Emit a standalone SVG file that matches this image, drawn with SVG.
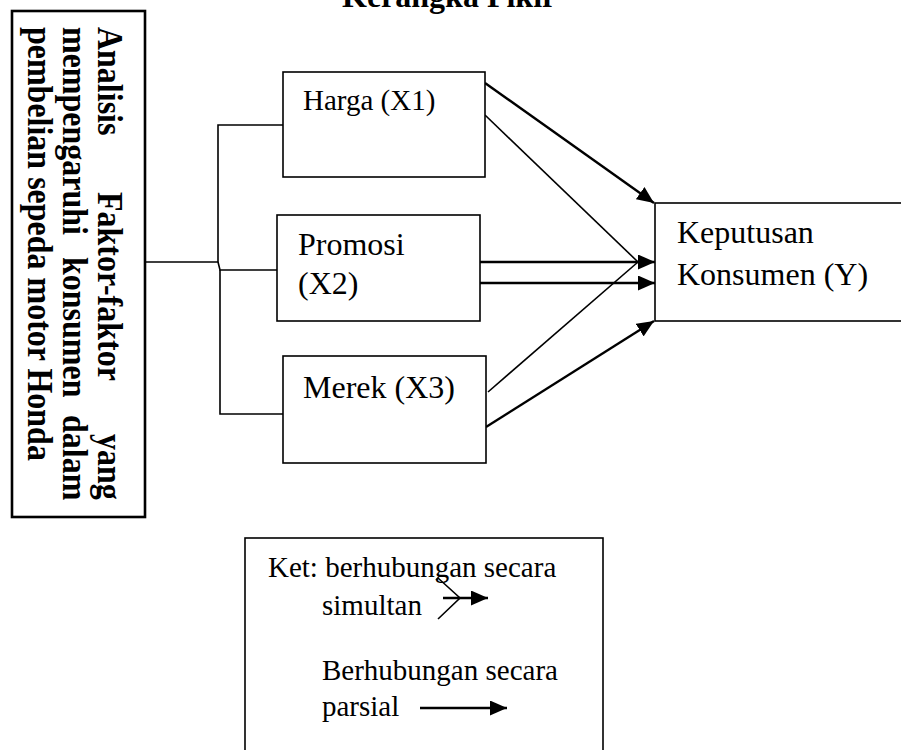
<svg xmlns="http://www.w3.org/2000/svg" width="901" height="750" viewBox="0 0 901 750">
<style>
.box{fill:#fff;stroke:#000;stroke-width:1.6}
.lbl{font-family:"Liberation Serif","Times New Roman",serif;font-size:32px;fill:#000}
.sm{font-size:29px}
.bold{font-weight:bold}
.ln{fill:none;stroke:#000;stroke-width:1.6}
.thick{fill:none;stroke:#000;stroke-width:2.4}
</style>
<defs>
<marker id="ah" markerUnits="userSpaceOnUse" markerWidth="17" markerHeight="15" refX="17" refY="7.5" orient="auto">
<path d="M0,0 L17,7.5 L0,15 z" fill="#000"/>
</marker>
</defs>
<rect width="901" height="750" fill="#fff"/>
<text class="lbl bold" x="342" y="7">Kerangka Pikir</text>

<g id="connectors">
<polyline class="ln" points="145,262 218,262 218,125 283,125"/>
<polyline class="ln" points="218,262 220,270 277,270"/>
<polyline class="ln" points="220,270 220,414 283,414"/>
<line class="thick" x1="485" y1="83" x2="654" y2="203" marker-end="url(#ah)"/>
<line class="thick" x1="480" y1="283" x2="655" y2="283" marker-end="url(#ah)"/>
<line class="thick" x1="486" y1="427" x2="654" y2="321" marker-end="url(#ah)"/>
<line class="ln" x1="485" y1="115" x2="638" y2="262"/>
<line class="ln" x1="488" y1="392" x2="638" y2="262"/>
<line class="thick" x1="480" y1="262" x2="655" y2="262" marker-end="url(#ah)"/>
</g>

<g id="analisis">
<rect x="12" y="11" width="133" height="506" fill="#fff" stroke="#000" stroke-width="2.6"/>
<g transform="translate(98,0) rotate(90) scale(1,1.14)">
<text class="lbl bold" y="0"><tspan x="27">Analisis</tspan><tspan x="192">Faktor-faktor</tspan><tspan x="434">yang</tspan></text>
<text class="lbl bold" y="30.7"><tspan x="27">mempengaruhi</tspan><tspan x="257">konsumen</tspan><tspan x="415">dalam</tspan></text>
<text class="lbl bold" y="61.4" x="27">pembelian sepeda motor Honda</text>
</g>
</g>

<g id="harga">
<rect class="box" x="283" y="72" width="202" height="105"/>
<text class="lbl sm" x="303" y="110">Harga (X1)</text>
</g>

<g id="promosi">
<rect class="box" x="277" y="215" width="203" height="106"/>
<text class="lbl" x="298" y="255">Promosi</text>
<text class="lbl" x="298" y="294">(X2)</text>
</g>

<g id="merek">
<rect class="box" x="283" y="356" width="203" height="107"/>
<text class="lbl" x="303" y="398">Merek (X3)</text>
</g>

<g id="keputusan">
<rect class="box" x="655" y="203" width="260" height="118"/>
<text class="lbl" x="677" y="243">Keputusan</text>
<text class="lbl" x="677" y="285">Konsumen (Y)</text>
</g>

<g id="legend">
<rect class="box" x="245" y="538" width="358" height="220"/>
<text class="lbl sm" x="268" y="577">Ket: berhubungan secara</text>
<text class="lbl sm" x="322" y="615">simultan</text>
<text class="lbl sm" x="322" y="680">Berhubungan secara</text>
<text class="lbl sm" x="322" y="716">parsial</text>
<polyline class="ln" points="436,580 438,578 460,598 438,619"/>
<line class="thick" x1="443" y1="598" x2="488" y2="598" marker-end="url(#ah)"/>
<line class="thick" x1="420" y1="708" x2="507" y2="708" marker-end="url(#ah)"/>
</g>
</svg>
